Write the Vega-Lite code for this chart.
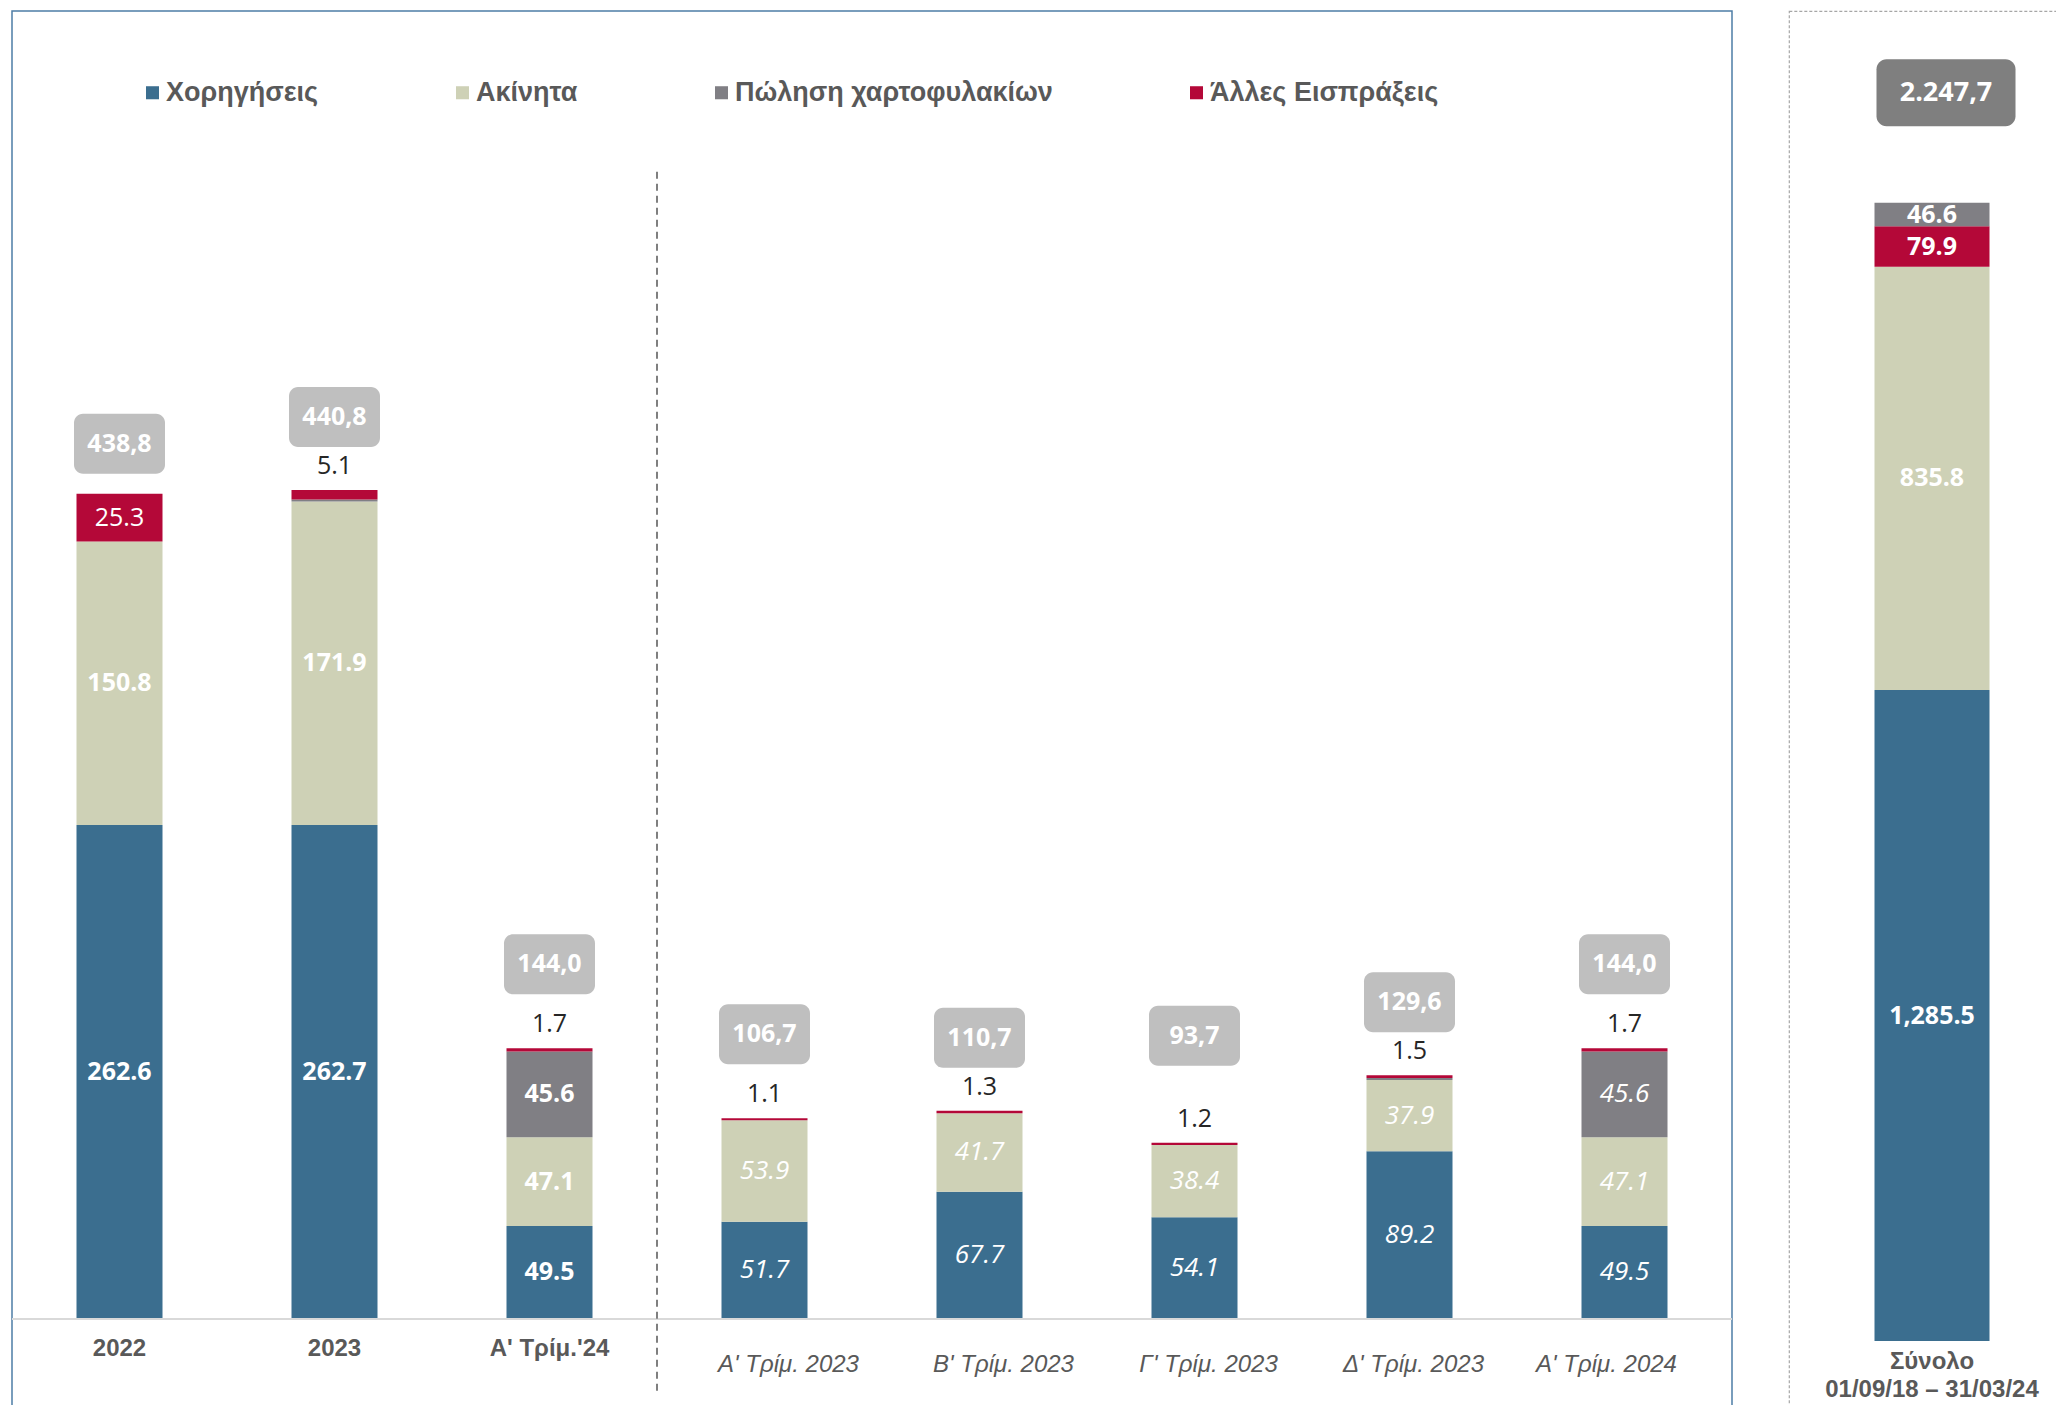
{
  "$schema": "https://vega.github.io/schema/vega-lite/v6.json",
  "padding": {"left": 10, "top": 10, "right": 0, "bottom": 0},
  "bounds": "flush",
  "spacing": 57,
  "background": "white",
  "datasets": {
    "seg": [
      {"cat": "2022", "group": "annual", "series": "Χορηγήσεις", "value": 262.6},
      {"cat": "2022", "group": "annual", "series": "Ακίνητα", "value": 150.8},
      {"cat": "2022", "group": "annual", "series": "Άλλες Εισπράξεις", "value": 25.3},
      {"cat": "2023", "group": "annual", "series": "Χορηγήσεις", "value": 262.7},
      {"cat": "2023", "group": "annual", "series": "Ακίνητα", "value": 171.9},
      {"cat": "2023", "group": "annual", "series": "Πώληση χαρτοφυλακίων", "value": 1.1},
      {"cat": "2023", "group": "annual", "series": "Άλλες Εισπράξεις", "value": 5.1},
      {"cat": "Α' Τρίμ.'24", "group": "annual", "series": "Χορηγήσεις", "value": 49.5},
      {"cat": "Α' Τρίμ.'24", "group": "annual", "series": "Ακίνητα", "value": 47.1},
      {"cat": "Α' Τρίμ.'24", "group": "annual", "series": "Πώληση χαρτοφυλακίων", "value": 45.6},
      {"cat": "Α' Τρίμ.'24", "group": "annual", "series": "Άλλες Εισπράξεις", "value": 1.7},
      {"cat": "Α' Τρίμ. 2023", "group": "quarter", "series": "Χορηγήσεις", "value": 51.7},
      {"cat": "Α' Τρίμ. 2023", "group": "quarter", "series": "Ακίνητα", "value": 53.9},
      {"cat": "Α' Τρίμ. 2023", "group": "quarter", "series": "Άλλες Εισπράξεις", "value": 1.1},
      {"cat": "Β' Τρίμ. 2023", "group": "quarter", "series": "Χορηγήσεις", "value": 67.7},
      {"cat": "Β' Τρίμ. 2023", "group": "quarter", "series": "Ακίνητα", "value": 41.7},
      {"cat": "Β' Τρίμ. 2023", "group": "quarter", "series": "Άλλες Εισπράξεις", "value": 1.3},
      {"cat": "Γ' Τρίμ. 2023", "group": "quarter", "series": "Χορηγήσεις", "value": 54.1},
      {"cat": "Γ' Τρίμ. 2023", "group": "quarter", "series": "Ακίνητα", "value": 38.4},
      {"cat": "Γ' Τρίμ. 2023", "group": "quarter", "series": "Άλλες Εισπράξεις", "value": 1.2},
      {"cat": "Δ' Τρίμ. 2023", "group": "quarter", "series": "Χορηγήσεις", "value": 89.2},
      {"cat": "Δ' Τρίμ. 2023", "group": "quarter", "series": "Ακίνητα", "value": 37.9},
      {"cat": "Δ' Τρίμ. 2023", "group": "quarter", "series": "Πώληση χαρτοφυλακίων", "value": 1.0},
      {"cat": "Δ' Τρίμ. 2023", "group": "quarter", "series": "Άλλες Εισπράξεις", "value": 1.5},
      {"cat": "Α' Τρίμ. 2024", "group": "quarter", "series": "Χορηγήσεις", "value": 49.5},
      {"cat": "Α' Τρίμ. 2024", "group": "quarter", "series": "Ακίνητα", "value": 47.1},
      {"cat": "Α' Τρίμ. 2024", "group": "quarter", "series": "Πώληση χαρτοφυλακίων", "value": 45.6},
      {"cat": "Α' Τρίμ. 2024", "group": "quarter", "series": "Άλλες Εισπράξεις", "value": 1.7},
      {"cat": "Σύνολο\n01/09/18 – 31/03/24", "group": "total", "series": "Χορηγήσεις", "value": 1285.5},
      {"cat": "Σύνολο\n01/09/18 – 31/03/24", "group": "total", "series": "Ακίνητα", "value": 835.8},
      {"cat": "Σύνολο\n01/09/18 – 31/03/24", "group": "total", "series": "Άλλες Εισπράξεις", "value": 79.9},
      {"cat": "Σύνολο\n01/09/18 – 31/03/24", "group": "total", "series": "Πώληση χαρτοφυλακίων", "value": 46.6}
    ],
    "totals": [
      {"cat": "2022", "group": "annual", "total": 438.8},
      {"cat": "2023", "group": "annual", "total": 440.8},
      {"cat": "Α' Τρίμ.'24", "group": "annual", "total": 144.0},
      {"cat": "Α' Τρίμ. 2023", "group": "quarter", "total": 106.7},
      {"cat": "Β' Τρίμ. 2023", "group": "quarter", "total": 110.7},
      {"cat": "Γ' Τρίμ. 2023", "group": "quarter", "total": 93.7},
      {"cat": "Δ' Τρίμ. 2023", "group": "quarter", "total": 129.6},
      {"cat": "Α' Τρίμ. 2024", "group": "quarter", "total": 144.0},
      {"cat": "Σύνολο\n01/09/18 – 31/03/24", "group": "total", "total": 2247.7}
    ]
  },
  "hconcat": [
    {
      "width": 1720,
      "height": 1405,
      "view": {"stroke": "#4e7ea6", "strokeWidth": 1.5},
      "layer": [
        {
          "data": {"name": "seg"},
          "transform": [
            {"filter": "datum.group !== 'total'"},
            {"calculate": "indexof(['Χορηγήσεις','Ακίνητα','Πώληση χαρτοφυλακίων','Άλλες Εισπράξεις'], datum.series)", "as": "rank"},
            {"stack": "value", "groupby": ["cat"], "sort": [{"field": "rank", "order": "ascending"}], "as": ["v0", "v1"]},
            {"calculate": "(datum.v0 + datum.v1) / 2", "as": "mid"}
          ],
          "layer": [
            {
              "mark": {"type": "bar", "width": {"band": 0.4}},
              "encoding": {
                "x": {"field": "cat", "type": "nominal", "axis": null, "scale": {"domain": ["2022", "2023", "Α' Τρίμ.'24", "Α' Τρίμ. 2023", "Β' Τρίμ. 2023", "Γ' Τρίμ. 2023", "Δ' Τρίμ. 2023", "Α' Τρίμ. 2024"], "paddingInner": 0, "paddingOuter": 0}},
                "y": {"field": "v0", "type": "quantitative", "axis": null, "scale": {"domain": [-51.57, 695.4], "nice": false, "zero": false}},
                "y2": {"field": "v1"},
                "color": {"field": "series", "type": "nominal", "title": null, "scale": {"domain": ["Χορηγήσεις", "Ακίνητα", "Πώληση χαρτοφυλακίων", "Άλλες Εισπράξεις"], "range": ["#3b6e8f", "#ced1b6", "#807f84", "#b40838"]}}
              }
            },
            {
              "transform": [{"filter": "datum.group === 'annual' && datum.value >= 10 && datum.series !== 'Άλλες Εισπράξεις'"}],
              "mark": {"type": "text", "font": "Open Sans", "fontSize": 25, "fontWeight": "bold", "color": "white", "baseline": "middle"},
              "encoding": {
                "x": {"field": "cat", "type": "nominal"},
                "y": {"field": "mid", "type": "quantitative"},
                "text": {"field": "value", "type": "quantitative", "format": ".1f"}
              }
            },
            {
              "transform": [{"filter": "datum.group === 'annual' && datum.value >= 10 && datum.series === 'Άλλες Εισπράξεις'"}],
              "mark": {"type": "text", "font": "Open Sans", "fontSize": 25, "color": "white", "baseline": "middle"},
              "encoding": {
                "x": {"field": "cat", "type": "nominal"},
                "y": {"field": "mid", "type": "quantitative"},
                "text": {"field": "value", "type": "quantitative", "format": ".1f"}
              }
            },
            {
              "transform": [{"filter": "datum.group === 'quarter' && datum.value >= 10"}],
              "mark": {"type": "text", "font": "Open Sans", "fontSize": 26, "fontStyle": "italic", "color": "white", "baseline": "middle"},
              "encoding": {
                "x": {"field": "cat", "type": "nominal"},
                "y": {"field": "mid", "type": "quantitative"},
                "text": {"field": "value", "type": "quantitative", "format": ".1f"}
              }
            },
            {
              "transform": [{"filter": "datum.series === 'Άλλες Εισπράξεις' && datum.value < 10"}],
              "mark": {"type": "text", "font": "Open Sans", "fontSize": 25, "color": "#262626", "baseline": "middle", "dy": -24},
              "encoding": {
                "x": {"field": "cat", "type": "nominal"},
                "y": {"field": "v1", "type": "quantitative"},
                "text": {"field": "value", "type": "quantitative", "format": ".1f"}
              }
            }
          ]
        },
        {
          "data": {"name": "totals"},
          "transform": [
            {"filter": "datum.group !== 'total'"},
            {"calculate": "replace(replace(replace(format(datum.total, ',.1f'), ',', '_'), '.', ','), '_', '.')", "as": "lbl"}
          ],
          "layer": [
            {
              "transform": [{"filter": {"field": "cat", "oneOf": ["2022"]}}],
              "layer": [
                {
                  "mark": {"type": "rect", "width": 91, "height": 60, "cornerRadius": 9, "color": "#bfbfbf", "yOffset": -50},
                  "encoding": {"x": {"field": "cat", "type": "nominal"}, "y": {"field": "total", "type": "quantitative"}}
                },
                {
                  "mark": {"type": "text", "font": "Open Sans", "fontSize": 25, "fontWeight": "bold", "color": "white", "baseline": "middle", "dy": -50},
                  "encoding": {"x": {"field": "cat", "type": "nominal"}, "y": {"field": "total", "type": "quantitative"}, "text": {"field": "lbl"}}
                }
              ]
            },
            {
              "transform": [{"filter": {"field": "cat", "oneOf": ["2023", "Β' Τρίμ. 2023", "Δ' Τρίμ. 2023"]}}],
              "layer": [
                {
                  "mark": {"type": "rect", "width": 91, "height": 60, "cornerRadius": 9, "color": "#bfbfbf", "yOffset": -73},
                  "encoding": {"x": {"field": "cat", "type": "nominal"}, "y": {"field": "total", "type": "quantitative"}}
                },
                {
                  "mark": {"type": "text", "font": "Open Sans", "fontSize": 25, "fontWeight": "bold", "color": "white", "baseline": "middle", "dy": -73},
                  "encoding": {"x": {"field": "cat", "type": "nominal"}, "y": {"field": "total", "type": "quantitative"}, "text": {"field": "lbl"}}
                }
              ]
            },
            {
              "transform": [{"filter": {"field": "cat", "oneOf": ["Α' Τρίμ.'24", "Α' Τρίμ. 2023", "Α' Τρίμ. 2024"]}}],
              "layer": [
                {
                  "mark": {"type": "rect", "width": 91, "height": 60, "cornerRadius": 9, "color": "#bfbfbf", "yOffset": -84},
                  "encoding": {"x": {"field": "cat", "type": "nominal"}, "y": {"field": "total", "type": "quantitative"}}
                },
                {
                  "mark": {"type": "text", "font": "Open Sans", "fontSize": 25, "fontWeight": "bold", "color": "white", "baseline": "middle", "dy": -84},
                  "encoding": {"x": {"field": "cat", "type": "nominal"}, "y": {"field": "total", "type": "quantitative"}, "text": {"field": "lbl"}}
                }
              ]
            },
            {
              "transform": [{"filter": {"field": "cat", "oneOf": ["Γ' Τρίμ. 2023"]}}],
              "layer": [
                {
                  "mark": {"type": "rect", "width": 91, "height": 60, "cornerRadius": 9, "color": "#bfbfbf", "yOffset": -107},
                  "encoding": {"x": {"field": "cat", "type": "nominal"}, "y": {"field": "total", "type": "quantitative"}}
                },
                {
                  "mark": {"type": "text", "font": "Open Sans", "fontSize": 25, "fontWeight": "bold", "color": "white", "baseline": "middle", "dy": -107},
                  "encoding": {"x": {"field": "cat", "type": "nominal"}, "y": {"field": "total", "type": "quantitative"}, "text": {"field": "lbl"}}
                }
              ]
            },
            {
              "transform": [{"filter": "datum.group === 'annual'"}],
              "mark": {"type": "text", "font": "Liberation Sans", "fontSize": 24, "fontWeight": "bold", "color": "#595959", "baseline": "middle", "dy": 30},
              "encoding": {
                "x": {"field": "cat", "type": "nominal"},
                "y": {"datum": 0, "type": "quantitative"},
                "text": {"field": "cat"}
              }
            },
            {
              "transform": [{"filter": {"field": "cat", "oneOf": ["Α' Τρίμ. 2023", "Β' Τρίμ. 2023"]}}],
              "mark": {"type": "text", "font": "Liberation Sans", "fontSize": 24, "fontStyle": "italic", "color": "#595959", "baseline": "middle", "dy": 46, "dx": 24},
              "encoding": {"x": {"field": "cat", "type": "nominal"}, "y": {"datum": 0, "type": "quantitative"}, "text": {"field": "cat"}}
            },
            {
              "transform": [{"filter": {"field": "cat", "oneOf": ["Γ' Τρίμ. 2023"]}}],
              "mark": {"type": "text", "font": "Liberation Sans", "fontSize": 24, "fontStyle": "italic", "color": "#595959", "baseline": "middle", "dy": 46, "dx": 14},
              "encoding": {"x": {"field": "cat", "type": "nominal"}, "y": {"datum": 0, "type": "quantitative"}, "text": {"field": "cat"}}
            },
            {
              "transform": [{"filter": {"field": "cat", "oneOf": ["Δ' Τρίμ. 2023"]}}],
              "mark": {"type": "text", "font": "Liberation Sans", "fontSize": 24, "fontStyle": "italic", "color": "#595959", "baseline": "middle", "dy": 46, "dx": 4},
              "encoding": {"x": {"field": "cat", "type": "nominal"}, "y": {"datum": 0, "type": "quantitative"}, "text": {"field": "cat"}}
            },
            {
              "transform": [{"filter": {"field": "cat", "oneOf": ["Α' Τρίμ. 2024"]}}],
              "mark": {"type": "text", "font": "Liberation Sans", "fontSize": 24, "fontStyle": "italic", "color": "#595959", "baseline": "middle", "dy": 46, "dx": -18},
              "encoding": {"x": {"field": "cat", "type": "nominal"}, "y": {"datum": 0, "type": "quantitative"}, "text": {"field": "cat"}}
            }
          ]
        },
        {
          "data": {"values": [{}]},
          "layer": [
            {
              "mark": {"type": "rule", "color": "#d9d9d9", "strokeWidth": 2},
              "encoding": {
                "y": {"datum": 0, "type": "quantitative"}
              }
            },
            {
              "mark": {"type": "rule", "color": "#7f7f7f", "strokeWidth": 2, "strokeDash": [7, 5]},
              "encoding": {
                "x": {"datum": "Α' Τρίμ.'24", "type": "nominal", "bandPosition": 1},
                "y": {"datum": 610, "type": "quantitative"},
                "y2": {"datum": -39}
              }
            }
          ]
        }
      ]
    },
    {
      "width": 286,
      "height": 1405,
      "view": {"stroke": "#a6a6a6", "strokeWidth": 1.2, "strokeDash": [3, 2]},
      "layer": [
        {
          "data": {"name": "seg"},
          "transform": [
            {"filter": "datum.group === 'total'"},
            {"calculate": "indexof(['Χορηγήσεις','Ακίνητα','Άλλες Εισπράξεις','Πώληση χαρτοφυλακίων'], datum.series)", "as": "rank"},
            {"stack": "value", "groupby": ["cat"], "sort": [{"field": "rank", "order": "ascending"}], "as": ["v0", "v1"]},
            {"calculate": "(datum.v0 + datum.v1) / 2", "as": "mid"}
          ],
          "layer": [
            {
              "mark": {"type": "bar", "width": 115},
              "encoding": {
                "x": {"field": "cat", "type": "nominal", "axis": null, "scale": {"paddingInner": 0, "paddingOuter": 0}},
                "y": {"field": "v0", "type": "quantitative", "axis": null, "scale": {"domain": [-148.1, 2626.4], "nice": false, "zero": false}},
                "y2": {"field": "v1"},
                "color": {"field": "series", "type": "nominal", "title": null, "scale": {"domain": ["Χορηγήσεις", "Ακίνητα", "Πώληση χαρτοφυλακίων", "Άλλες Εισπράξεις"], "range": ["#3b6e8f", "#ced1b6", "#807f84", "#b40838"]}}
              }
            },
            {
              "mark": {"type": "text", "font": "Open Sans", "fontSize": 25, "fontWeight": "bold", "color": "white", "baseline": "middle"},
              "encoding": {
                "x": {"field": "cat", "type": "nominal"},
                "y": {"field": "mid", "type": "quantitative"},
                "text": {"field": "value", "type": "quantitative", "format": ",.1f"}
              }
            }
          ]
        },
        {
          "data": {"name": "totals"},
          "transform": [
            {"filter": "datum.group === 'total'"},
            {"calculate": "replace(replace(replace(format(datum.total, ',.1f'), ',', '_'), '.', ','), '_', '.')", "as": "lbl"}
          ],
          "layer": [
            {
              "mark": {"type": "rect", "width": 139, "height": 67, "cornerRadius": 10, "color": "#7f7f7f", "yOffset": -110, "xOffset": 14},
              "encoding": {
                "x": {"field": "cat", "type": "nominal"},
                "y": {"field": "total", "type": "quantitative"}
              }
            },
            {
              "mark": {"type": "text", "font": "Open Sans", "fontSize": 27, "fontWeight": "bold", "color": "white", "baseline": "middle", "dy": -110, "dx": 14},
              "encoding": {
                "x": {"field": "cat", "type": "nominal"},
                "y": {"field": "total", "type": "quantitative"},
                "text": {"field": "lbl"}
              }
            },
            {
              "mark": {"type": "text", "font": "Liberation Sans", "fontSize": 24, "fontWeight": "bold", "color": "#595959", "baseline": "middle", "dy": 21, "lineBreak": "\n", "lineHeight": 28},
              "encoding": {
                "x": {"field": "cat", "type": "nominal"},
                "y": {"datum": 0, "type": "quantitative"},
                "text": {"field": "cat"}
              }
            }
          ]
        }
      ]
    }
  ],
  "config": {
    "view": {"stroke": null},
    "legend": {
      "orient": "none",
      "legendX": 127,
      "legendY": 68,
      "direction": "horizontal",
      "columns": 4,
      "columnPadding": 130,
      "symbolType": "square",
      "symbolSize": 170,
      "symbolStrokeWidth": 0,
      "labelFont": "Liberation Sans",
      "labelFontSize": 27,
      "labelFontWeight": "bold",
      "labelColor": "#595959",
      "labelOffset": 0,
      "labelLimit": 0,
      "padding": 0
    }
  }
}
